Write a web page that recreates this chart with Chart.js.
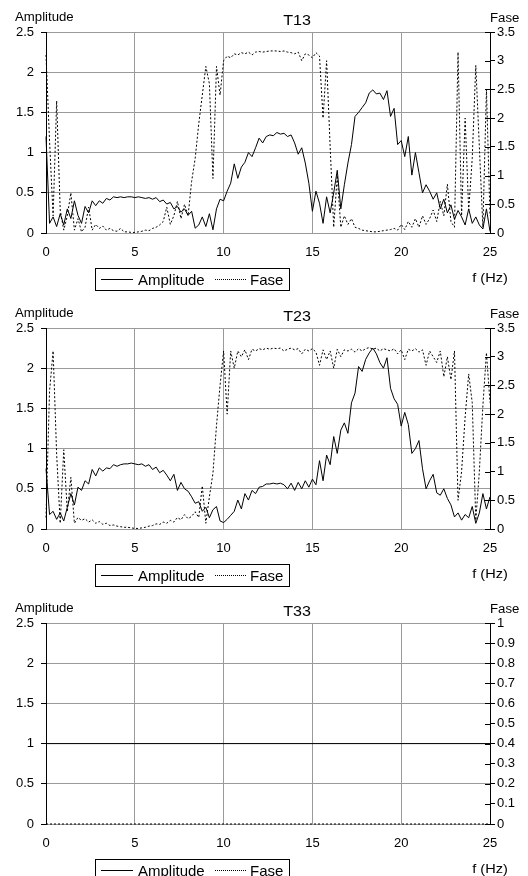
<!DOCTYPE html>
<html>
<head>
<meta charset="utf-8">
<script src="https://cdn.jsdelivr.net/npm/chart.js@4.4.0/dist/chart.umd.min.js"></script>
<style>
  html, body { margin: 0; padding: 0; background: #fff; overflow: hidden; }
  body { width: 528px; height: 876px; position: relative; font-family: "Liberation Sans", Arial, sans-serif; color: #000; }
  .panel { position: absolute; left: 0; width: 528px; height: 296px; }
  .panel canvas { position: absolute; left: 0; top: 0; }
  .txt { position: absolute; white-space: nowrap; line-height: 1; }
  .box { position: absolute; border: 1px solid #000; box-sizing: border-box; }
  .sample { position: absolute; height: 0; }
</style>
</head>
<body>
<script>
// ==================================================
// DATA — frequency grid (Hz) and transfer functions
// ==================================================
const freq = [
  0, 0.2, 0.4, 0.6, 0.8, 1, 1.2, 1.4, 1.6, 1.8,
  2, 2.2, 2.4, 2.6, 2.8, 3, 3.2, 3.4, 3.6, 3.8,
  4, 4.2, 4.4, 4.6, 4.8, 5, 5.2, 5.4, 5.6, 5.8,
  6, 6.2, 6.4, 6.6, 6.8, 7, 7.2, 7.4, 7.6, 7.8,
  8, 8.2, 8.4, 8.6, 8.8, 9, 9.2, 9.4, 9.6, 9.8,
  10, 10.2, 10.4, 10.6, 10.8, 11, 11.2, 11.4, 11.6, 11.8,
  12, 12.2, 12.4, 12.6, 12.8, 13, 13.2, 13.4, 13.6, 13.8,
  14, 14.2, 14.4, 14.6, 14.8, 15, 15.2, 15.4, 15.6, 15.8,
  16, 16.2, 16.4, 16.6, 16.8, 17, 17.2, 17.4, 17.6, 17.8,
  18, 18.2, 18.4, 18.6, 18.8, 19, 19.2, 19.4, 19.6, 19.8,
  20, 20.2, 20.4, 20.6, 20.8, 21, 21.2, 21.4, 21.6, 21.8,
  22, 22.2, 22.4, 22.6, 22.8, 23, 23.2, 23.4, 23.6, 23.8,
  24, 24.2, 24.4, 24.6, 24.8, 25
];

const ampT13 = [
  1.2, 0.12, 0.2, 0.08, 0.24, 0.1, 0.3, 0.18, 0.4, 0.22,
  0.12, 0.33, 0.25, 0.4, 0.34, 0.4, 0.37, 0.43, 0.41, 0.45,
  0.44, 0.45, 0.44, 0.45, 0.45, 0.44, 0.45, 0.44, 0.43, 0.44,
  0.42, 0.44, 0.39, 0.41, 0.36, 0.38, 0.3, 0.33, 0.26, 0.3,
  0.22, 0.27, 0.06, 0.1, 0.2, 0.08, 0.24, 0.04, 0.3, 0.42,
  0.4, 0.52, 0.62, 0.86, 0.68, 0.82, 0.88, 1.0, 0.95, 1.06,
  1.18, 1.12, 1.2, 1.22, 1.21, 1.25, 1.23, 1.24, 1.2, 1.22,
  1.12, 0.98, 1.06, 0.87, 0.62, 0.27, 0.52, 0.37, 0.12, 0.45,
  0.25, 0.5, 0.78, 0.3, 0.6, 0.87, 1.1, 1.45, 1.5, 1.56,
  1.62, 1.74, 1.78, 1.73, 1.74, 1.66, 1.77, 1.45, 1.55, 1.1,
  1.15, 0.95, 1.2, 0.72, 1.0, 0.75, 0.5, 0.6, 0.52, 0.42,
  0.5, 0.3, 0.42, 0.25, 0.35, 0.17, 0.28, 0.2, 0.1, 0.3,
  0.12, 0.2, 0.1, 0.05, 0.3, 0.02
];

const faseT13 = [
  3.1, 1.6, 0.3, 2.3, 0.4, 0.05, 0.3, 0.7, 0.05, 0.25,
  0.02, 0.1, 0.45, 0.05, 0.15, 0.08, 0.12, 0.05, 0.08, 0.04,
  0.03, 0.08, 0.02, 0.02, 0.01, 0.01, 0.02, 0.03, 0.05, 0.04,
  0.08, 0.1, 0.14, 0.2, 0.45, 0.15, 0.3, 0.55, 0.25, 0.5,
  0.3, 0.9, 1.3, 1.9, 2.4, 2.9, 2.6, 0.95, 2.9, 2.4,
  3.0, 3.08, 3.05, 3.12, 3.1, 3.14, 3.12, 3.15, 3.1, 3.15,
  3.16, 3.15, 3.16, 3.17, 3.17, 3.17, 3.16, 3.17, 3.15, 3.14,
  3.12, 3.15, 3.0, 3.12, 3.1, 3.05, 3.14, 3.08, 2.0, 3.0,
  1.5, 0.1, 1.0, 0.1, 0.3, 0.15, 0.25, 0.1, 0.08, 0.05,
  0.04, 0.03, 0.02, 0.02, 0.03, 0.04, 0.05, 0.06, 0.08, 0.05,
  0.15, 0.06, 0.2, 0.1, 0.25, 0.1, 0.3, 0.15, 0.25, 0.4,
  0.2, 0.55, 0.3, 0.85, 0.2, 0.1, 3.15, 0.3, 2.0, 0.4,
  1.3, 2.92, 1.5, 0.1, 2.5, 0.3
];

const ampT23 = [
  0.75, 0.18, 0.22, 0.12, 0.2, 0.1, 0.27, 0.44, 0.3, 0.52,
  0.48, 0.6, 0.56, 0.74, 0.66, 0.76, 0.72, 0.76, 0.75, 0.8,
  0.78, 0.8, 0.81, 0.81, 0.82, 0.81, 0.8, 0.81, 0.78, 0.8,
  0.74, 0.77, 0.7, 0.73, 0.67, 0.6, 0.68, 0.48, 0.58, 0.5,
  0.47, 0.4, 0.32, 0.34, 0.22, 0.27, 0.14, 0.24, 0.28, 0.1,
  0.08, 0.12, 0.17, 0.22, 0.36, 0.25, 0.44, 0.36, 0.48, 0.44,
  0.52, 0.53, 0.56, 0.56, 0.57, 0.56, 0.57, 0.55, 0.5, 0.57,
  0.48, 0.58, 0.5, 0.6, 0.52, 0.62, 0.55, 0.85, 0.6, 0.92,
  0.8, 1.15, 0.94, 1.23, 1.32, 1.19, 1.57, 1.69, 2.02, 1.96,
  2.11, 2.19, 2.25, 2.18, 2.07, 2.0, 2.13, 1.75, 1.62, 1.55,
  1.28, 1.45, 1.3, 0.94, 1.0, 1.1, 0.75, 0.5, 0.6, 0.68,
  0.45, 0.42, 0.5, 0.38, 0.3, 0.15, 0.2, 0.11, 0.18, 0.14,
  0.28, 0.07, 0.2, 0.44, 0.25, 0.4
];

const faseT23 = [
  0.2, 2.4, 3.1, 1.3, 0.1, 1.38, 0.3, 0.9, 0.1, 0.2,
  0.15, 0.18, 0.12, 0.16, 0.1, 0.13, 0.08, 0.1, 0.06, 0.07,
  0.05, 0.04, 0.03, 0.03, 0.02, 0.01, 0.01, 0.02, 0.03, 0.05,
  0.06, 0.09, 0.08, 0.12, 0.1, 0.15, 0.12, 0.2, 0.16, 0.25,
  0.18, 0.22, 0.3, 0.2, 0.75, 0.1, 0.56, 0.97, 1.8, 2.5,
  3.1, 2.0, 3.1, 2.8, 3.1, 3.0, 3.12, 2.95, 3.13, 3.1,
  3.14, 3.12, 3.15, 3.13, 3.15, 3.14, 3.15, 3.1, 3.13, 3.15,
  3.12, 3.14, 3.05, 3.13, 3.1, 3.14, 3.08, 2.85, 3.12, 2.95,
  3.1, 2.8, 3.13, 3.0, 3.12, 3.1, 3.13, 3.08, 3.14, 3.1,
  3.14, 3.16, 3.13, 3.15, 3.1, 3.14, 3.12, 3.1, 3.14, 3.05,
  3.12, 2.95, 3.13, 3.1, 3.14, 3.08, 3.12, 2.85, 3.1, 3.0,
  2.9, 3.1, 2.65, 3.0, 2.6, 3.1, 0.5, 1.0, 1.95, 2.7,
  2.2, 0.15, 1.0, 2.15, 3.07, 2.2
];

const freqT33 = [0, 25];
const ampT33 = [1, 1];
const faseT33 = [0, 0];

const ampTicks = { max: 2.5, step: 0.5 };
const faseTicksPi = { max: 3.5, step: 0.5 };
const faseTicksUnit = { max: 1, step: 0.1 };

// ==================================================
// PANELS
// ==================================================
const GRID = '#9a9a9a';
const TICK_FONT = { family: 'Liberation Sans', size: 13 };
const fmt = v => String(Math.round(v * 100) / 100);

const panels = [
  { title: 'T13', top: 0,   f: freq,    amp: ampT13, fase: faseT13, faseAxis: faseTicksPi },
  { title: 'T23', top: 296, f: freq,    amp: ampT23, fase: faseT23, faseAxis: faseTicksPi },
  { title: 'T33', top: 591, f: freqT33, amp: ampT33, fase: faseT33, faseAxis: faseTicksUnit },
];

// right axis ticks cross the axis line (outer half drawn by Chart.js)
const innerTicks = {
  id: 'innerTicks',
  afterDraw(chart) {
    const s = chart.scales.y2, ctx = chart.ctx;
    ctx.save();
    ctx.strokeStyle = '#000';
    ctx.lineWidth = 1;
    s.ticks.forEach(t => {
      const y = Math.round(s.getPixelForValue(t.value)) + 0.5;
      ctx.beginPath();
      ctx.moveTo(s.left - 5, y);
      ctx.lineTo(s.left, y);
      ctx.stroke();
    });
    ctx.restore();
  }
};

function buildPanel(p) {
  const el = document.createElement('div');
  el.className = 'panel';
  el.style.top = p.top + 'px';
  el.innerHTML = `
    <canvas width="528" height="296"></canvas>
    <div class="txt" style="left:15px;top:11px;font-size:12px;transform:scaleX(1.1);transform-origin:left top;">Amplitude</div>
    <div class="txt" style="left:490px;top:11.5px;font-size:12px;transform:scaleX(1.1);transform-origin:left top;">Fase</div>
    <div class="txt" style="left:296.5px;top:13px;font-size:14px;transform:translateX(-50%) scaleX(1.15);">${p.title}</div>
    <div class="box" style="left:95px;top:268px;width:195px;height:23px;"></div>
    <div class="sample" style="left:101px;top:279px;width:32px;border-top:1px solid #000;"></div>
    <div class="txt" style="left:138px;top:272.3px;font-size:15px;">Amplitude</div>
    <div class="sample" style="left:215px;top:279px;width:31px;border-top:1px dotted #000;"></div>
    <div class="txt" style="left:250px;top:272.3px;font-size:15px;">Fase</div>
    <div class="txt" style="left:490px;top:271px;font-size:13px;transform:translateX(-50%) scaleX(1.12);">f (Hz)</div>`;
  document.body.appendChild(el);

  const toXY = (xs, ys) => ys.map((v, i) => ({ x: xs[i], y: v }));

  new Chart(el.querySelector('canvas'), {
    type: 'line',
    data: {
      datasets: [
        { label: 'Fase', data: toXY(p.f, p.fase), yAxisID: 'y2', borderColor: '#000', borderWidth: 1, borderDash: [2, 2], pointRadius: 0, tension: 0, clip: false },
        { label: 'Amplitude', data: toXY(p.f, p.amp), yAxisID: 'y', borderColor: '#000', borderWidth: 1, pointRadius: 0, tension: 0, clip: false },
      ],
    },
    options: {
      responsive: false, animation: false, devicePixelRatio: 1,
      layout: { padding: { top: 32, left: 0, right: 0, bottom: 0 } },
      plugins: { legend: { display: false }, tooltip: { enabled: false }, title: { display: false } },
      scales: {
        x: {
          type: 'linear', min: 0, max: 25,
          ticks: { stepSize: 5, color: '#000', font: TICK_FONT, padding: 12, maxRotation: 0 },
          grid: { color: GRID, drawTicks: false },
          border: { color: GRID },
          afterFit: s => { s.height = 63; },
        },
        y: {
          position: 'left', min: 0, max: ampTicks.max,
          ticks: { stepSize: ampTicks.step, color: '#000', font: TICK_FONT, padding: 7, callback: fmt },
          grid: { color: GRID, tickLength: 5, tickColor: '#000' },
          border: { color: '#000' },
          afterFit: s => { s.width = 46; },
        },
        y2: {
          position: 'right', min: 0, max: p.faseAxis.max,
          ticks: { stepSize: p.faseAxis.step, color: '#000', font: TICK_FONT, padding: 2, callback: fmt },
          grid: { drawOnChartArea: false, tickLength: 5, tickColor: '#000' },
          border: { color: '#000' },
          afterFit: s => { s.width = 38; },
        },
      },
    },
    plugins: [innerTicks],
  });
}

panels.forEach(buildPanel);
</script>
</body>
</html>
